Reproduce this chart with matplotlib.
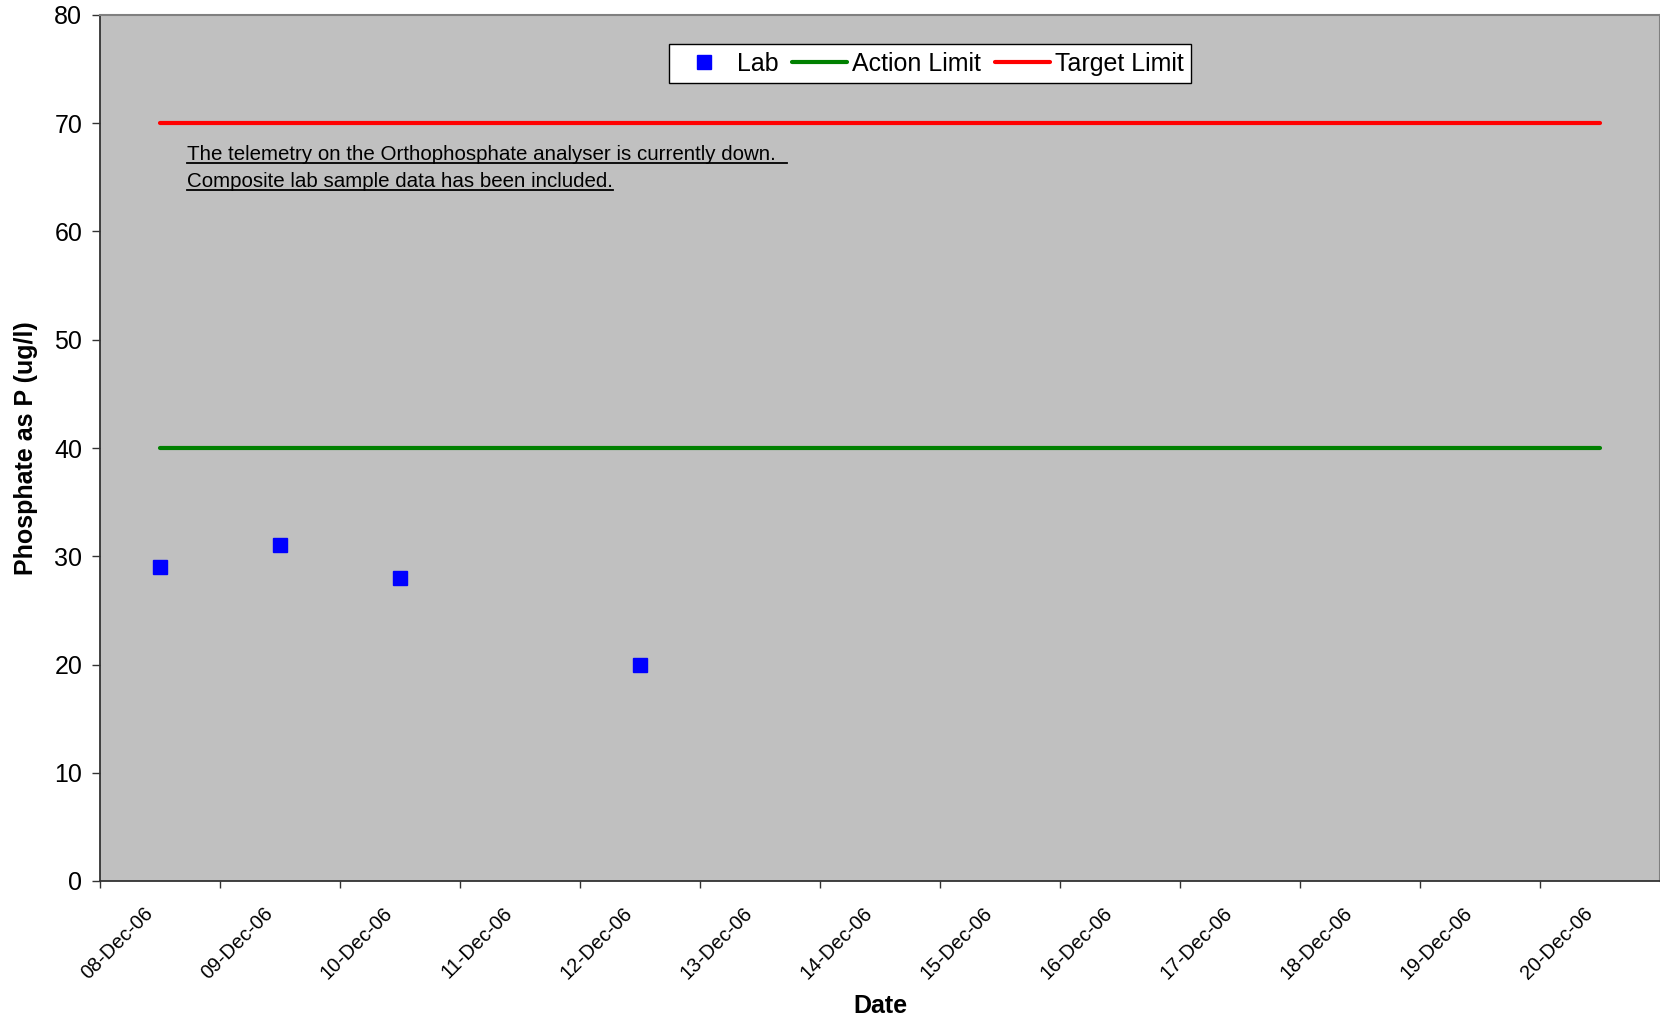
import matplotlib
matplotlib.use("Agg")
import matplotlib.pyplot as plt
import matplotlib.transforms as mtransforms
from matplotlib.lines import Line2D
import numpy as np

plt.rcParams['font.family'] = ['Liberation Sans', 'DejaVu Sans']

# category axis, one slot per day
dates = ['08-Dec-06', '09-Dec-06', '10-Dec-06', '11-Dec-06', '12-Dec-06',
         '13-Dec-06', '14-Dec-06', '15-Dec-06', '16-Dec-06', '17-Dec-06',
         '18-Dec-06', '19-Dec-06', '20-Dec-06']

# composite lab samples
lab_dates = ['08-Dec-06', '09-Dec-06', '10-Dec-06', '12-Dec-06']
lab_values = [29, 31, 28, 20]

# limits (ug/l)
action_limit = [40] * len(dates)
target_limit = [70] * len(dates)

notes = ['The telemetry on the Orthophosphate analyser is currently down.  ',
         'Composite lab sample data has been included.']

x = np.arange(len(dates))
lab_x = [dates.index(d) for d in lab_dates]

fig = plt.figure(figsize=(16.6, 10.23), dpi=100)
ax = fig.add_axes([100 / 1660, 1 - 881 / 1023, 1560 / 1660, 866 / 1023])
ax.set_facecolor('#C0C0C0')

ax.plot(lab_x, lab_values, 's', color='#0000FF', markersize=9.6,
        linestyle='none', label='Lab', zorder=4)
ax.plot(x, action_limit, color='#008000', lw=3, solid_capstyle='round',
        label='Action Limit', zorder=3)
ax.plot(x, target_limit, color='#FF0000', lw=3, solid_capstyle='round',
        label='Target Limit', zorder=3)

ax.set_xlim(-0.5, len(dates) - 0.5)
ax.set_ylim(0, 80)
ax.set_yticks(np.arange(0, 81, 10))
ax.tick_params(axis='y', labelsize=18, length=5.8, width=1, pad=7,
               color='#333333')

# labels sit under each day, tick marks on the day boundaries
ax.set_xticks(x)
ax.set_xticklabels(dates, rotation=45, ha='right', va='top', fontsize=14.3)
ax.set_xticks(np.arange(-0.5, len(dates) - 1), minor=True)
ax.tick_params(axis='x', which='major', length=0, pad=16)
ax.tick_params(axis='x', which='minor', length=4.8, width=1, color='#333333')
shift = mtransforms.ScaledTranslation(-3.5 / 100, 0, fig.dpi_scale_trans)
for lbl in ax.get_xticklabels():
    lbl.set_transform(lbl.get_transform() + shift)

for side in ['left', 'bottom']:
    ax.spines[side].set_color('#333333')
    ax.spines[side].set_linewidth(1.3)
for side in ['top', 'right']:
    ax.spines[side].set_color('#808080')
    ax.spines[side].set_linewidth(1.5)

ax.set_xlabel('Date', fontsize=18, fontweight='bold', va='center')
ax.xaxis.set_label_coords(0.5, (881 - 1006) / 866)
ax.set_ylabel('Phosphate as P (ug/l)', fontsize=18, fontweight='bold',
              va='center')
ax.yaxis.set_label_coords((26.5 - 100) / 1560, 0.5)

leg = ax.legend(loc='center', bbox_to_anchor=(0.532, 0.9435), ncol=3,
                fontsize=18, fancybox=False, framealpha=1, edgecolor='black',
                handlelength=2.2, handletextpad=0.2, columnspacing=0.55,
                borderpad=0.3)
leg.get_frame().set_linewidth(1)

note_texts = []
for i, line in enumerate(notes):
    t = ax.text(0.225, 66.6 - i * 2.45, line, fontsize=14.8, va='baseline',
                ha='left', color='black')
    note_texts.append(t)

# underline the note lines
fig.canvas.draw()
renderer = fig.canvas.get_renderer()
for t in note_texts:
    bb = t.get_window_extent(renderer)
    yb = ax.transData.transform(t.get_position())[1]
    fig.add_artist(Line2D([bb.x0, bb.x1], [yb - 3, yb - 3],
                          transform=mtransforms.IdentityTransform(),
                          color='black', lw=1.3))

fig.savefig('out.png', dpi=100)
